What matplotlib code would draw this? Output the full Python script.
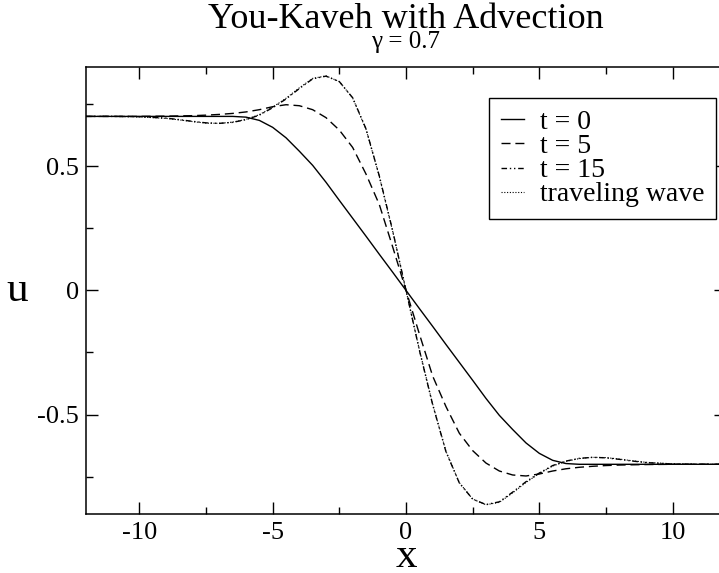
import matplotlib
matplotlib.use("Agg")
import matplotlib.pyplot as plt

plt.rcParams['font.family'] = ['Liberation Serif', 'DejaVu Serif']

# grid of x positions (same for every curve)
x = [-12, -11, -10, -9, -8.5, -8, -7.5, -7, -6.5, -6, -5.5, -5, -4.5, -4, -3.5,
     -3, -2.5, -2, -1.5, -1, -0.5, 0, 0.5, 1, 1.5, 2, 2.5, 3, 3.5, 4, 4.5, 5,
     5.5, 6, 6.5, 7, 7.5, 8, 8.5, 9, 10, 11, 12]

u_t0 = [0.7, 0.7, 0.7, 0.7, 0.7, 0.7, 0.7, 0.7, 0.7, 0.697, 0.684, 0.656,
        0.614, 0.56, 0.503, 0.435, 0.362, 0.29, 0.218, 0.145, 0.073,
        0.0,
        -0.073, -0.145, -0.218, -0.29, -0.362, -0.435, -0.503, -0.56, -0.614,
        -0.656, -0.684, -0.697, -0.7, -0.7, -0.7, -0.7, -0.7, -0.7, -0.7,
        -0.7, -0.7]

u_t5 = [0.7, 0.7, 0.7, 0.701, 0.702, 0.703, 0.705, 0.708, 0.712, 0.718,
        0.727, 0.739, 0.747, 0.743, 0.727, 0.695, 0.645, 0.575, 0.468, 0.345,
        0.175,
        0.0,
        -0.175, -0.345, -0.468, -0.575, -0.645, -0.695, -0.727, -0.743,
        -0.747, -0.739, -0.727, -0.718, -0.712, -0.708, -0.705, -0.703,
        -0.702, -0.701, -0.7, -0.7, -0.7]

u_t15 = [0.7, 0.7, 0.699, 0.693, 0.687, 0.68, 0.674, 0.672, 0.676, 0.687,
         0.705, 0.735, 0.77, 0.812, 0.851, 0.862, 0.84, 0.775, 0.65, 0.46,
         0.24,
         0.0,
         -0.24, -0.46, -0.65, -0.775, -0.84, -0.862, -0.851, -0.812, -0.77,
         -0.735, -0.705, -0.687, -0.676, -0.672, -0.674, -0.68, -0.687,
         -0.693, -0.699, -0.7, -0.7]

u_wave = [0.7, 0.7, 0.698, 0.692, 0.686, 0.679, 0.673, 0.672, 0.677, 0.688,
          0.707, 0.737, 0.773, 0.815, 0.853, 0.863, 0.84, 0.774, 0.648, 0.458,
          0.238,
          0.0,
          -0.238, -0.458, -0.648, -0.774, -0.84, -0.863, -0.853, -0.815,
          -0.773, -0.737, -0.707, -0.688, -0.677, -0.672, -0.673, -0.679,
          -0.686, -0.692, -0.698, -0.7, -0.7]

labels = ["t = 0", "t = 5", "t = 15", "traveling wave"]

W, H = 719, 573
fig = plt.figure(figsize=(W / 100, H / 100), dpi=100)
ax = fig.add_axes([86 / W, 59 / H, 640 / W, 447.3 / H])

ax.plot(x, u_t0, color='black', lw=1.0, label=labels[0])
ax.plot(x, u_t5, color='black', lw=1.0, dashes=(6.5, 3.5), label=labels[1])
ax.plot(x, u_t15, color='black', lw=1.0, dashes=(4, 2, 1, 2, 1, 2), label=labels[2])
ax.plot(x, u_wave, color='black', lw=0.8, dashes=(1, 1.5), label=labels[3])

ax.set_xlim(-12, 12)
ax.set_ylim(-0.9, 0.9)
ax.set_xticks([-10, -5, 0, 5, 10])
ax.set_xticklabels(["-10", "-5", "0", "5", "10"])
ax.set_xticks([-7.5, -2.5, 2.5, 7.5], minor=True)
ax.set_yticks([-0.5, 0, 0.5])
ax.set_yticklabels(["-0.5", "0", "0.5"])
ax.set_yticks([-0.75, -0.25, 0.25, 0.75], minor=True)
ax.tick_params(which='both', direction='in', top=True, right=True,
               labelsize=19, width=1.0)
ax.tick_params(which='major', length=8.6)
ax.tick_params(which='minor', length=5)
ax.tick_params(axis='x', pad=6)
ax.tick_params(axis='y', pad=5)
for s in ax.spines.values():
    s.set_linewidth(1.1)

leg = ax.legend(loc='upper left', bbox_to_anchor=(0.63, 0.93), borderaxespad=0,
                fontsize=20, handlelength=0.85, handletextpad=0.55,
                labelspacing=-0.05, borderpad=0.42, fancybox=False,
                edgecolor='black', framealpha=1)
leg.get_frame().set_linewidth(1.0)

fig.text(406 / W, 1 - 28.5 / H, "You-Kaveh with Advection", fontsize=26,
         ha='center', va='baseline')
fig.text(406 / W, 1 - 48 / H, "γ = 0.7", fontsize=18, ha='center',
         va='baseline')
fig.text(406 / W, 1 - 566.7 / H, "x", fontsize=31, ha='center', va='baseline')
fig.text(17.5 / W, 1 - 301 / H, "u", fontsize=31, ha='center', va='baseline')

fig.savefig("out.png", dpi=100)
